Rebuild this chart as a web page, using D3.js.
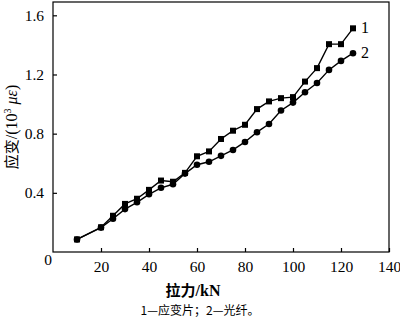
<!DOCTYPE html>
<html>
<head>
<meta charset="utf-8">
<script src="https://cdn.jsdelivr.net/npm/d3@7"></script>
<style>
  body { margin: 0; background: #fff; }
  svg { display: block; }
</style>
</head>
<body>
<svg id="chart" width="400" height="320"></svg>
<script>
// load in kN
const loads = [10, 20, 25, 30, 35, 40, 45, 50, 55, 60, 65, 70, 75, 80, 85, 90, 95, 100, 105, 110, 115, 120, 125]
// 1 - strain gauge (10^3 micro-strain)
const gaugeStrain = [0.085, 0.167, 0.245, 0.325, 0.36, 0.42, 0.483, 0.475, 0.535, 0.647, 0.68, 0.764, 0.82, 0.86, 0.966, 1.018, 1.04, 1.047, 1.152, 1.243, 1.405, 1.405, 1.512]
// 2 - optical fiber
const fiberStrain = [0.085, 0.165, 0.225, 0.29, 0.336, 0.39, 0.434, 0.458, 0.53, 0.59, 0.61, 0.65, 0.69, 0.744, 0.81, 0.865, 0.957, 1.01, 1.08, 1.142, 1.231, 1.292, 1.344]
const xTicks = [20, 40, 60, 80, 100, 120, 140]
const yTicks = [0.4, 0.8, 1.2, 1.6]
const seriesNames = ['1', '2']

const serif = "'Liberation Serif', 'Times New Roman', serif"
const cjk = "'Noto Sans CJK SC', sans-serif"

const svg = d3.select('#chart')
const mLeft = 53, mRight = 389, mTop = 2, mBottom = 252

const x = d3.scaleLinear().domain([0, 140]).range([mLeft, mRight])
const y = d3.scaleLinear().domain([0, 1.69]).range([mBottom, mTop])

// frame
svg.append('rect')
    .attr('x', mLeft).attr('y', mTop)
    .attr('width', mRight - mLeft).attr('height', mBottom - mTop)
    .attr('fill', 'none').attr('stroke', '#000').attr('stroke-width', 1.2)

const xAxis = d3.axisBottom(x).tickValues(xTicks).tickSizeInner(-4).tickSizeOuter(0).tickPadding(9)
const gx = svg.append('g').attr('transform', `translate(0,${mBottom})`).call(xAxis)
gx.select('.domain').remove()

const yAxis = d3.axisLeft(y).tickValues(yTicks).tickSizeInner(-4).tickSizeOuter(0).tickPadding(9)
    .tickFormat(d3.format('.1f'))
const gy = svg.append('g').attr('transform', `translate(${mLeft},0)`).call(yAxis)
gy.select('.domain').remove()

svg.selectAll('.tick line').attr('stroke', '#000').attr('stroke-width', 1.2)
svg.selectAll('.tick text')
    .attr('fill', '#000')
    .attr('font-family', serif)
    .attr('font-size', 15.5)
gx.attr('font-family', serif)
gy.attr('font-family', serif)

// shared origin label
svg.append('text')
    .attr('x', mLeft - 5).attr('y', mBottom + 13)
    .attr('text-anchor', 'middle')
    .attr('font-family', serif).attr('font-size', 15.5)
    .text('0')

const data1 = loads.map((d, i) => ({ x: d, y: gaugeStrain[i] }))
const data2 = loads.map((d, i) => ({ x: d, y: fiberStrain[i] }))
const line = d3.line().x((d) => x(d.x)).y((d) => y(d.y))

svg.append('path').datum(data2).attr('d', line)
    .attr('fill', 'none').attr('stroke', '#000').attr('stroke-width', 1.4)
svg.append('path').datum(data1).attr('d', line)
    .attr('fill', 'none').attr('stroke', '#000').attr('stroke-width', 1.4)

svg.selectAll('.sq').data(data1).join('rect')
    .attr('x', (d) => x(d.x) - 3).attr('y', (d) => y(d.y) - 3)
    .attr('width', 6).attr('height', 6).attr('fill', '#000')
svg.selectAll('.dot').data(data2).join('circle')
    .attr('cx', (d) => x(d.x)).attr('cy', (d) => y(d.y))
    .attr('r', 3.3).attr('fill', '#000')

// series labels at line ends
const ends = [data1[data1.length - 1], data2[data2.length - 1]]
svg.selectAll('.lab').data(ends).join('text')
    .attr('x', (d) => x(d.x) + 8).attr('y', (d) => y(d.y) + 5)
    .attr('font-family', serif).attr('font-size', 16)
    .text((d, i) => seriesNames[i])

// axis titles
const xt = svg.append('text')
    .attr('x', 193).attr('y', 296)
    .attr('text-anchor', 'middle')
    .attr('font-size', 15)
    .attr('font-weight', 'bold')
xt.append('tspan').attr('font-family', cjk).text('拉力')
xt.append('tspan').attr('font-family', serif).attr('font-size', 16).text('/kN')

const yt = svg.append('text')
    .attr('transform', `translate(17,${(mTop + mBottom) / 2}) rotate(-90)`)
    .attr('text-anchor', 'middle')
    .attr('font-family', serif).attr('font-size', 16)
yt.append('tspan').attr('font-family', cjk).attr('font-size', 15).text('应变')
yt.append('tspan').text('/(10')
yt.append('tspan').attr('dy', -6).attr('font-size', 10).text('3')
yt.append('tspan').attr('dy', 6).text(' ')
yt.append('tspan').attr('font-style', 'italic').text('με')
yt.append('tspan').text(')')

// caption
svg.append('text')
    .attr('x', 200).attr('y', 315)
    .attr('text-anchor', 'middle')
    .attr('font-family', cjk).attr('font-size', 12)
    .text('1—应变片；2—光纤。')
</script>
</body>
</html>
